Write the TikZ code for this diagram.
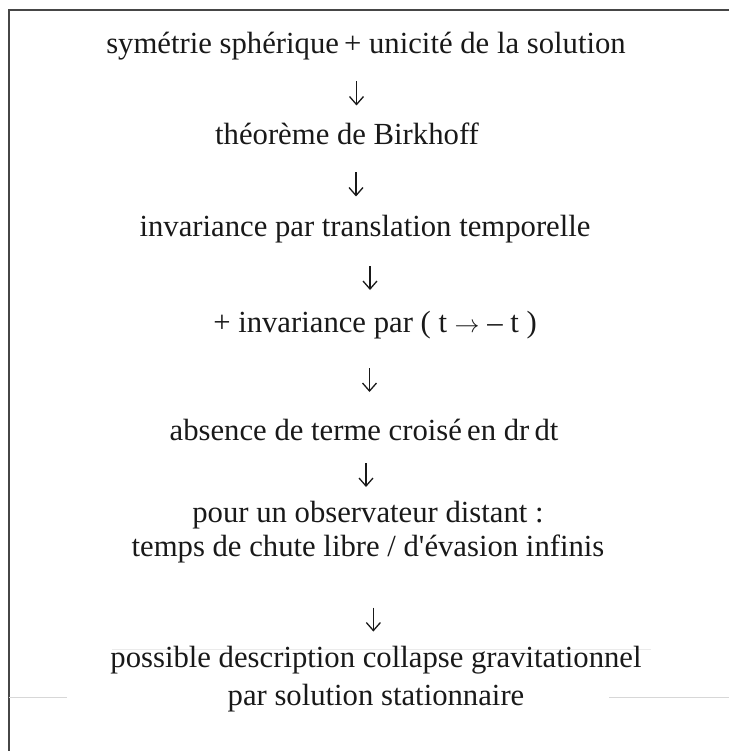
\documentclass[tikz,border=0pt]{standalone}
\usepackage{fontspec}
\setmainfont{Liberation Serif}
\usetikzlibrary{arrows.meta,calc}
\definecolor{inkBlack}{RGB}{25,25,25}
\definecolor{frameGray}{RGB}{70,70,70}
\definecolor{ghostGray}{RGB}{215,215,215}
\tikzset{
  stage/.style={font=\fontsize{30.7}{34}\selectfont, text=inkBlack, inner sep=0pt,
    text height=20pt, text depth=8pt, anchor=base, align=center},
  flow/.style={-{Straight Barb[length=8pt,width=14pt]}, line width=1.3pt, inkBlack},
}
\begin{document}
\begin{tikzpicture}[x=1pt,y=-1pt]
  \useasboundingbox (0,0) rectangle (729,751);
  % page frame and scan traces
  \draw[frameGray,line width=1.5pt] (729,10) -- (9,10) -- (9,751);
  \draw[ghostGray,line width=1pt] (9,697) -- (67,697) (609,697) -- (729,697);
  \draw[ghostGray!50,line width=1pt] (112,649) -- (651,649);
  % chain of statements (base = last line)
  \node[stage] (sym) at (366,54) {symétrie sphérique\,+ unicité de la solution};
  \node[stage] (birk) at (347,145) {théorème de Birkhoff};
  \node[stage] (transl) at (365,236) {invariance par translation temporelle};
  \node[stage] (revers) at (375,332) {+ invariance par ( t $\rightarrow$ – t )};
  \node[stage] (cross) at (364,440) {absence de terme croisé\,en dr\,dt};
  \node[stage,text height=54pt] (observ) at (368,556)
    {pour un observateur distant :\\temps de chute libre / d\textquotesingle évasion infinis};
  \node[stage,text height=58pt] (collapse) at (376,705)
    {possible description collapse gravitationnel\\[4pt]par solution stationnaire};
  % implications
  \foreach \a/\b/\r in {sym/birk/.5, birk/transl/.5, transl/revers/.5,
                        revers/cross/.5, cross/observ/.5, observ/collapse/.67}
    \draw[flow] ($(\a.south)!\r!(\b.north)$) ++(0,-12) -- ++(0,24);
\end{tikzpicture}
\end{document}
